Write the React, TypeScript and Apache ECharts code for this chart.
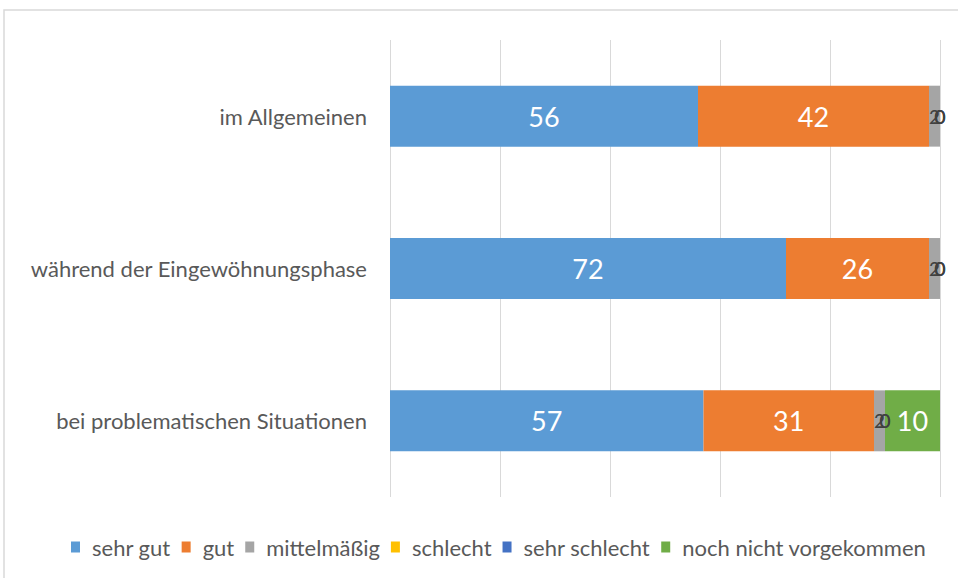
import React, { useEffect, useRef } from "react";
import * as echarts from "echarts";

const categories = ["im Allgemeinen", "während der Eingewöhnungsphase", "bei problematischen Situationen"];
const seriesNames = ["sehr gut", "gut", "mittelmäßig", "schlecht", "sehr schlecht", "noch nicht vorgekommen"];
const sehrGut = [56, 72, 57];
const gut = [42, 26, 31];
const mittelmaessig = [2, 2, 2];
const schlecht = [0, 0, 0];
const sehrSchlecht = [0, 0, 0];
const nochNicht = [0, 0, 10];
const colors = ["#5B9BD5", "#ED7D31", "#A5A5A5", "#FFC000", "#4472C4", "#70AD47"];

const FONT = "Lato, 'Open Sans', sans-serif";

export default function App() {
  const ref = useRef<HTMLDivElement>(null);
  useEffect(() => {
    if (!ref.current) return;
    const chart = echarts.init(ref.current, null, { renderer: "svg" });
    const allValues = [sehrGut, gut, mittelmaessig, schlecht, sehrSchlecht, nochNicht];
    const series = allValues.map((vals, i) => ({
      name: seriesNames[i],
      type: "bar",
      stack: "total",
      barWidth: "40%",
      itemStyle: { color: colors[i] },
      data: vals.map((v) => ({
        value: v,
        label: {
          color: v >= 5 ? "#ffffff" : "#404040",
          fontSize: v >= 5 ? 27 : 19,
        },
      })),
      label: {
        show: true,
        position: "inside",
        fontFamily: FONT,
        formatter: (p: any) => String(p.value),
      },
    }));
    chart.setOption({
      animation: false,
      textStyle: { fontFamily: FONT },
      graphic: [
        {
          type: "rect",
          shape: { x: 4, y: 10, width: 1000, height: 620 },
          style: { fill: "none", stroke: "#d9d9d9", lineWidth: 1.5 },
          silent: true,
          z: -10,
        },
      ],
      grid: { left: 390, right: 18, top: 40, bottom: 81 },
      legend: {
        bottom: 15,
        left: 66,
        itemWidth: 9,
        itemHeight: 11,
        itemGap: 11,
        icon: "rect",
        textStyle: { color: "#595959", fontSize: 22, fontFamily: FONT, padding: [0, 0, 0, 7] },
        data: seriesNames,
      },
      xAxis: {
        type: "value",
        min: 0,
        max: 100,
        interval: 20,
        axisLabel: { show: false },
        axisLine: { show: false },
        axisTick: { show: false },
        splitLine: { lineStyle: { color: "#d9d9d9", width: 1 } },
      },
      yAxis: {
        type: "category",
        inverse: true,
        data: categories,
        axisLine: { show: false },
        axisTick: { show: false },
        axisLabel: { color: "#595959", fontSize: 22, margin: 23, fontFamily: FONT },
      },
      series,
    });
    return () => chart.dispose();
  }, []);
  return (
    <div
      ref={ref}
      style={{ position: "fixed", left: 0, top: 0, width: 958, height: 578, background: "#fff" }}
    />
  );
}
